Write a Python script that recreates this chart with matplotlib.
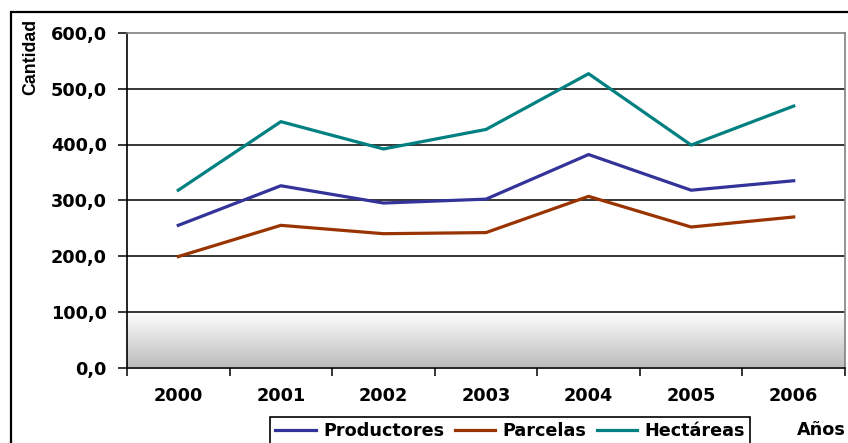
import numpy as np
import matplotlib
matplotlib.use("Agg")
import matplotlib.pyplot as plt
from matplotlib.patches import Rectangle

# data
years = ["2000", "2001", "2002", "2003", "2004", "2005", "2006"]
productores = [255, 326, 295, 302, 382, 318, 335]
parcelas = [199, 255, 240, 242, 307, 252, 270]
hectareas = [318, 441, 392, 427, 527, 399, 469]

y_ticks = [0, 100, 200, 300, 400, 500, 600]
y_labels = ["0,0", "100,0", "200,0", "300,0", "400,0", "500,0", "600,0"]

W, H = 848, 443
FS = 12.7
fig = plt.figure(figsize=(W / 100, H / 100), dpi=100)
plt.rcParams['font.family'] = ['DejaVu Sans']

# outer chart frame (runs off the right and bottom edges)
frame_top = 1 - 12 / H
fig.patches.append(Rectangle((10.7 / W, -0.2), 1.2, frame_top + 0.2,
                             transform=fig.transFigure, fill=False,
                             edgecolor="black", linewidth=1.6))

left, right, top, bottom = 127, 845, 33, 367.5
ax = fig.add_axes([left / W, 1 - bottom / H, (right - left) / W, (bottom - top) / H])

x = np.arange(len(years))
ax.set_xlim(-0.5, len(years) - 0.5)
ax.set_ylim(0, 600)

# grey gradient in the lowest band
grad = np.linspace(0.74, 1.0, 256).reshape(-1, 1)
ax.imshow(grad, cmap="gray", vmin=0, vmax=1, aspect="auto", origin="lower",
          extent=(-0.5, len(years) - 0.5, 0, 100), zorder=0)

for v in y_ticks[1:-1]:
    ax.axhline(v, color="black", linewidth=1.1, zorder=1)

ax.plot(x, productores, color="#333399", linewidth=2.3, label="Productores", zorder=3)
ax.plot(x, parcelas, color="#993300", linewidth=2.3, label="Parcelas", zorder=3)
ax.plot(x, hectareas, color="#008080", linewidth=2.3, label="Hectáreas", zorder=3)

ax.spines["top"].set_color("#808080")
ax.spines["right"].set_color("#808080")
ax.spines["left"].set_color("black")
ax.spines["bottom"].set_color("black")
for s in ax.spines.values():
    s.set_linewidth(1.2)

ax.set_yticks(y_ticks)
ax.set_yticklabels(y_labels, fontsize=FS, fontweight="bold")
ax.tick_params(axis="y", length=6.5, width=1.1, pad=8)

ax.set_xticks(x)
ax.set_xticklabels(years, fontsize=FS, fontweight="bold")
ax.set_xticks(np.arange(-0.5, len(years)), minor=True)
ax.tick_params(axis="x", which="major", length=0, pad=14)
ax.tick_params(axis="x", which="minor", length=6, width=1.1)

fig.text(31 / W, 1 - 19 / H, "Cantidad", rotation=90, ha="center", va="top",
         fontsize=12.8, fontweight="bold", family="Liberation Sans")
fig.text(797 / W, 1 - 430 / H, "Años", ha="left", va="center",
         fontsize=FS, fontweight="bold")

leg = fig.legend(loc="upper left", bbox_to_anchor=(270 / W, 1 - 417 / H), ncol=3,
                 frameon=True, fancybox=False, edgecolor="black", framealpha=1,
                 prop={"size": FS, "weight": "bold"}, handlelength=2.3,
                 handletextpad=0.4, columnspacing=0.6, borderpad=0.3,
                 borderaxespad=0)
leg.get_frame().set_linewidth(1.2)

fig.savefig("out.png", dpi=100)
